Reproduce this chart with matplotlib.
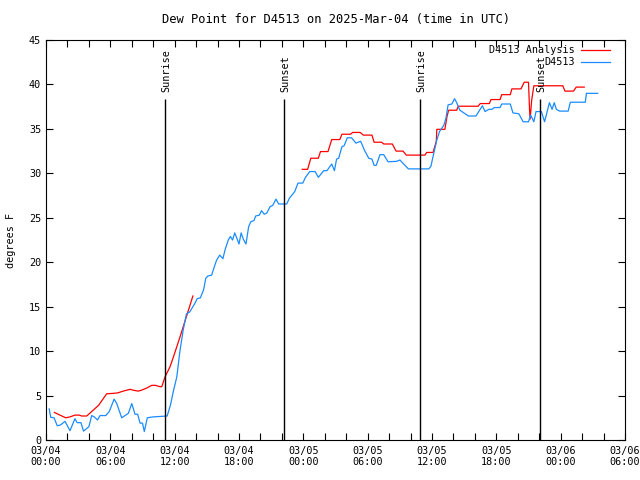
import numpy as np
import matplotlib
matplotlib.use("Agg")
import matplotlib.pyplot as plt

# hours since 03/04 00:00 UTC
obs_hours = [0.3, 0.44, 0.75, 1.05, 1.37, 1.77, 2.24, 2.7, 2.9, 3.26, 3.5, 4.0, 4.26, 4.5, 4.8,
             5.04, 5.57, 5.9, 6.35, 6.6, 7.06, 7.68, 8.0, 8.3, 8.55, 8.77, 9.0, 9.17, 9.45, 10.0,
             11.2, 11.3, 11.6, 11.9, 12.2, 12.5, 12.8, 13.1, 13.4, 13.9, 14.1, 14.4, 14.7, 14.9,
             15.1, 15.45, 15.7, 15.9, 16.2, 16.5, 16.7, 17.0, 17.2, 17.4, 17.6, 17.8, 18.0, 18.2,
             18.4, 18.65, 18.9, 19.1, 19.4, 19.55, 19.9, 20.1, 20.35, 20.6, 20.9, 21.15, 21.45,
             21.7, 22.45, 22.7, 23.2, 23.5, 23.95, 24.2, 24.6, 25.1, 25.4, 25.9, 26.2, 26.65,
             26.9, 27.1, 27.3, 27.6, 27.8, 28.1, 28.5, 28.9, 29.1, 29.35, 29.7, 30.1, 30.4, 30.6,
             30.8, 31.15, 31.5, 31.9, 32.7, 33.0, 33.8, 35.7, 35.9, 36.1, 36.45, 36.7, 37.1,
             37.3, 37.5, 37.85, 38.1, 38.3, 38.6, 39.4, 40.1, 40.7, 40.95, 41.3, 41.6, 41.8,
             42.35, 42.5, 43.3, 43.55, 44.1, 44.5, 45.0, 45.2, 45.5, 45.7, 46.2, 46.5, 46.95,
             47.2, 47.4, 47.6, 47.9, 48.7, 48.9, 50.3, 50.4, 51.45]
obs_dewpt = [3.5, 2.55, 2.5, 1.6, 1.7, 2.1, 1.05, 2.4, 1.95, 1.95, 1.0, 1.5, 2.75, 2.6, 2.25,
             2.75, 2.75, 3.2, 4.6, 4.1, 2.5, 3.0, 4.1, 2.9, 2.9, 1.9, 1.9, 0.95, 2.5, 2.6,
             2.7, 2.7, 3.9, 5.6, 7.1, 10.1, 12.4, 14.2, 14.4, 15.4, 15.9, 16.0, 16.9, 18.2,
             18.45, 18.55, 19.5, 20.2, 20.8, 20.4, 21.4, 22.5, 22.9, 22.5, 23.3, 22.7, 22.05, 23.3,
             22.6, 22.05, 24.0, 24.55, 24.7, 25.2, 25.3, 25.8, 25.4, 25.55, 26.25, 26.4, 27.1,
             26.55, 26.55, 27.2, 27.95, 28.9, 28.9, 29.55, 30.2, 30.2, 29.55, 30.3, 30.3, 31.05,
             30.3, 31.6, 31.7, 33.0, 33.1, 34.0, 34.0, 33.4, 33.5, 33.6, 32.6, 31.7, 31.6, 30.9,
             30.9, 32.1, 32.1, 31.3, 31.35, 31.5, 30.5, 30.5, 30.8, 31.9, 33.75, 34.7, 35.4,
             36.2, 37.7, 37.8, 38.4, 37.95, 37.1, 36.45, 36.45, 37.6, 36.95, 37.2, 37.2, 37.4,
             37.4, 37.8, 37.8, 36.8, 36.7, 35.8, 35.8, 36.55, 35.8, 36.95, 36.95, 35.8, 37.95,
             37.2, 37.95, 37.2, 37.0, 37.0, 38.0, 38.0, 39.0, 39.0]

ana_hours = [0.78, 1.3, 1.84, 2.24, 2.7, 3.1, 3.33, 3.8, 4.26, 4.9, 5.66, 6.3, 6.7, 7.2, 7.84,
             8.15, 8.6, 8.9, 9.4, 9.86, 10.2, 10.63, 10.8, 11.1, 11.57, 11.9, 12.5, 13.1, 13.7,
             18.0,
             23.9, 24.4, 24.7, 25.4, 25.6, 26.3, 26.65, 27.4, 27.6, 28.4, 28.6, 29.3, 29.6, 30.4,
             30.6, 31.3, 31.5, 32.3, 32.65, 33.3, 33.6, 35.35, 35.5, 36.1, 36.4, 36.45, 37.2,
             37.4, 37.55, 38.3, 38.45, 40.3, 40.5, 41.35, 41.5, 42.35, 42.5, 43.3, 43.45, 44.3,
             44.6, 45.0, 45.1, 45.15, 45.3, 45.5, 48.2, 48.4, 49.2, 49.45, 50.2]
ana_dewpt = [3.1, 2.8, 2.5, 2.6, 2.8, 2.8, 2.7, 2.7, 3.2, 3.9, 5.2, 5.25, 5.3, 5.5, 5.7,
             5.6, 5.5, 5.6, 5.85, 6.15, 6.15, 6.0, 6.0, 7.1, 8.25, 9.4, 11.6, 13.9, 16.2,
             np.nan,
             30.45, 30.45, 31.7, 31.7, 32.45, 32.45, 33.8, 33.8, 34.4, 34.4, 34.6, 34.6, 34.3, 34.3,
             33.5, 33.5, 33.3, 33.3, 32.5, 32.5, 32.05, 32.05, 32.35, 32.35, 33.6, 34.95, 34.95,
             36.4, 37.1, 37.1, 37.55, 37.55, 37.85, 37.85, 38.3, 38.3, 38.85, 38.85, 39.5, 39.5,
             40.25, 40.25, 37.1, 36.1, 38.25, 39.85, 39.85, 39.25, 39.25, 39.7, 39.7]

sun_hours = [11.1, 22.2, 34.88, 46.07]
sun_labels = ["Sunrise", "Sunset", "Sunrise", "Sunset"]

xtick_hours = [0, 6, 12, 18, 24, 30, 36, 42, 48, 54]
xtick_labels = ["03/04\n00:00", "03/04\n06:00", "03/04\n12:00", "03/04\n18:00",
                "03/05\n00:00", "03/05\n06:00", "03/05\n12:00", "03/05\n18:00",
                "03/06\n00:00", "03/06\n06:00"]

plt.rcParams['font.family'] = ['DejaVu Sans Mono']
plt.rcParams['font.size'] = 7.3

fig = plt.figure(figsize=(6.4, 4.8), dpi=100)
ax = fig.add_axes([46 / 640, 40 / 480, 579 / 640, 400 / 480])

ax.plot(ana_hours, ana_dewpt, color='#ff0000', lw=0.9, label='D4513 Analysis')
ax.plot(obs_hours, obs_dewpt, color='#1a8cff', lw=0.9, label='D4513')

for h, lab in zip(sun_hours, sun_labels):
    ax.vlines(h, 0, 38.4, color='black', lw=1)
    ax.text(h + 0.1, 39.1, lab, rotation=90, ha='center', va='bottom')

ax.set_xlim(0, 54)
ax.set_ylim(0, 45)
ax.set_xticks(xtick_hours)
ax.set_xticklabels(xtick_labels)
ax.set_xticks(np.arange(0, 55, 2), minor=True)
ax.set_yticks(np.arange(0, 46, 5))
ax.tick_params(which='both', direction='in', length=5, width=0.8, top=True, right=True)
ax.tick_params(axis='x', pad=4)
ax.set_ylabel('degrees F', labelpad=9)
ax.set_title('Dew Point for D4513 on 2025-Mar-04 (time in UTC)', pad=12.5)

leg = ax.legend(loc='upper right', bbox_to_anchor=(0.982, 1.0), frameon=False,
                markerfirst=False, handlelength=2.8, borderaxespad=0.1,
                labelspacing=0.2, handletextpad=0.6)

fig.savefig('out.png', dpi=100)
